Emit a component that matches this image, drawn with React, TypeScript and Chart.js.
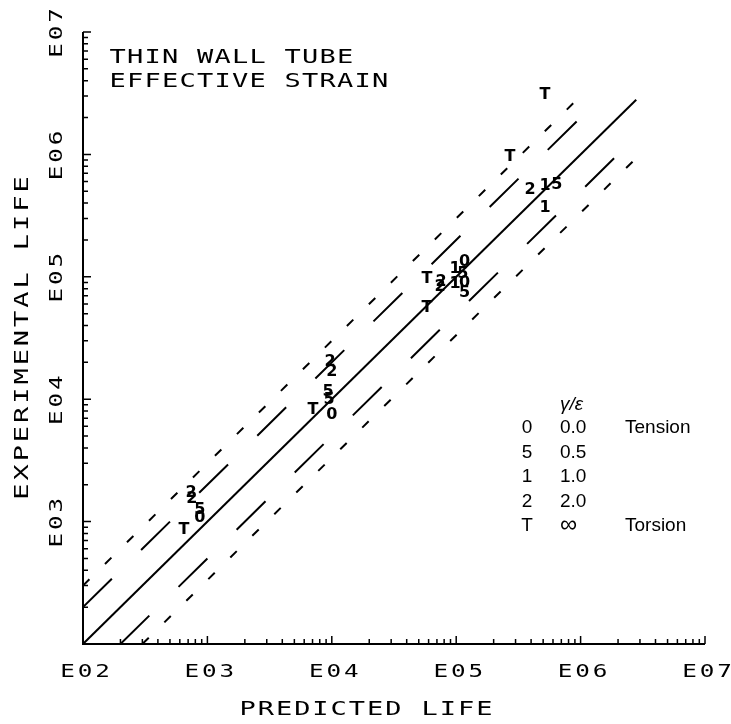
import { useEffect, useRef } from "react";
import { Chart, registerables } from "chart.js";

Chart.register(...registerables);

// ---- axis ticks ----
const decadeValues = [1e2, 1e3, 1e4, 1e5, 1e6, 1e7];
const decadeLabels = ["E02", "E03", "E04", "E05", "E06", "E07"];
const minorMultipliers = [2, 3, 4, 5, 6, 7, 8, 9];

// ---- data points (predicted life, experimental life), grouped by plotted symbol ----
const sym0X = [871, 10000, 117000, 117000];
const sym0Y = [1070, 7400, 132000, 89000];
const sym5X = [871, 9340, 9500, 113000, 117000, 645000];
const sym5Y = [1245, 11500, 9800, 105000, 74000, 562000];
const sym1X = [98000, 98000, 518000, 518000];
const sym1Y = [117000, 87000, 550000, 363000];
const sym2X = [738, 751, 9680, 10000, 75500, 74300, 392000];
const sym2Y = [1715, 1530, 20100, 16700, 90600, 82600, 515000];
const symTX = [648, 7060, 58200, 58200, 270000, 518000];
const symTY = [855, 8130, 95900, 55600, 955000, 3050000];

// ---- reference lines (y = x, factor-of-2 and factor-of-3 bands) ----
const solidX = [1e2, 2.8e6];
const solidY = [1e2, 2.8e6];
const upper2X = [1e2, 1e6];
const upper2Y = [2e2, 2e6];
const upper3X = [1e2, 1e6];
const upper3Y = [3e2, 3e6];
const lower2X = [2e2, 2e6];
const lower2Y = [1e2, 1e6];
const lower3X = [3e2, 3e6];
const lower3Y = [1e2, 1e6];

// ---- legend ----
const legendSymbols = ["0", "5", "1", "2", "T"];
const legendRatios = ["0.0", "0.5", "1.0", "2.0", "\u221E"];
const legendNotes = ["Tension", "", "", "", "Torsion"];

const titleLines = ["THIN WALL TUBE", "EFFECTIVE STRAIN"];
const xTitle = "PREDICTED LIFE";
const yTitle = "EXPERIMENTAL LIFE";

const PLOT_FONT = "'DejaVu Sans Mono', monospace";

function drawSpaced(
  ctx: CanvasRenderingContext2D,
  text: string,
  x: number,
  y: number,
  size: number,
  adv: number,
  hs: number,
  align: "left" | "center",
  rot = 0
) {
  ctx.save();
  ctx.translate(x, y);
  if (rot) ctx.rotate(rot);
  ctx.font = `${size}px ${PLOT_FONT}`;
  ctx.textAlign = "center";
  ctx.textBaseline = "alphabetic";
  const total = text.length * adv;
  const x0 = align === "center" ? -total / 2 : 0;
  for (let i = 0; i < text.length; i++) {
    const ch = text[i];
    if (ch === " ") continue;
    ctx.save();
    ctx.translate(x0 + (i + 0.5) * adv, 0);
    ctx.scale(hs, 1);
    ctx.fillText(ch, 0, 0);
    ctx.restore();
  }
  ctx.restore();
}

const pts = (xs: number[], ys: number[]) => xs.map((x, i) => ({ x, y: ys[i] }));

export default function App() {
  const ref = useRef<HTMLCanvasElement | null>(null);

  useEffect(() => {
    if (!ref.current) return;

    const lineDs = (xs: number[], ys: number[], dash: number[], offset = 0) => ({
      type: "line" as const,
      data: pts(xs, ys),
      borderColor: "#000",
      borderWidth: 2,
      borderDash: dash,
      borderDashOffset: offset,
      pointRadius: 0,
      fill: false,
      showLine: true,
      tension: 0,
      borderCapStyle: "butt" as const,
    });

    const symDs = (label: string, xs: number[], ys: number[]) => ({
      type: "scatter" as const,
      label,
      data: pts(xs, ys),
      pointRadius: 0,
      pointHoverRadius: 0,
      showLine: false,
    });

    const overlay = {
      id: "overlay",
      beforeDraw(chart: any) {
        const c = chart.ctx as CanvasRenderingContext2D;
        c.save();
        c.fillStyle = "#fff";
        c.fillRect(0, 0, chart.width, chart.height);
        c.restore();
      },
      afterDraw(chart: any) {
        const c = chart.ctx as CanvasRenderingContext2D;
        const xs = chart.scales.x;
        const ys = chart.scales.y;
        const area = chart.chartArea;
        c.save();
        c.strokeStyle = "#000";
        c.fillStyle = "#000";

        // axes
        c.lineWidth = 2;
        c.beginPath();
        c.moveTo(area.left, area.top);
        c.lineTo(area.left, area.bottom);
        c.lineTo(area.right, area.bottom);
        c.stroke();

        // ticks
        c.lineWidth = 1.5;
        c.beginPath();
        for (let d = 0; d < decadeValues.length; d++) {
          const v = decadeValues[d];
          const px = xs.getPixelForValue(v);
          const py = ys.getPixelForValue(v);
          c.moveTo(px, area.bottom);
          c.lineTo(px, area.bottom - 8);
          c.moveTo(area.left, py);
          c.lineTo(area.left + 8, py);
          if (d < decadeValues.length - 1) {
            for (const m of minorMultipliers) {
              const mv = v * m;
              const mx = xs.getPixelForValue(mv);
              const my = ys.getPixelForValue(mv);
              c.moveTo(mx, area.bottom);
              c.lineTo(mx, area.bottom - 5);
              c.moveTo(area.left, my);
              c.lineTo(area.left + 5, my);
            }
          }
        }
        c.stroke();

        // tick labels (y axis has no E02 label)
        for (let d = 0; d < decadeValues.length; d++) {
          const v = decadeValues[d];
          drawSpaced(c, decadeLabels[d], xs.getPixelForValue(v) + 2, 677, 18, 17.5, 1.35, "center");
          if (d > 0) {
            drawSpaced(c, decadeLabels[d], 62, ys.getPixelForValue(v) + 1, 18, 17.5, 1.35, "center", -Math.PI / 2);
          }
        }

        // axis titles
        drawSpaced(c, xTitle, 366, 715, 20, 18.2, 1.35, "center");
        drawSpaced(c, yTitle, 28, 338, 20, 19.2, 1.35, "center", -Math.PI / 2);

        // title
        drawSpaced(c, titleLines[0], 109, 63, 20, 17.5, 1.35, "left");
        drawSpaced(c, titleLines[1], 109, 87, 20, 17.5, 1.35, "left");

        // data symbols
        c.font = "bold 16px 'DejaVu Sans', sans-serif";
        c.textAlign = "center";
        c.textBaseline = "middle";
        chart.data.datasets.forEach((ds: any, i: number) => {
          if (ds.type !== "scatter") return;
          const meta = chart.getDatasetMeta(i);
          meta.data.forEach((el: any) => {
            c.fillText(ds.label, el.x, el.y);
          });
        });

        // legend
        c.textBaseline = "alphabetic";
        c.font = "italic 19px 'Liberation Sans', Arial, sans-serif";
        c.textAlign = "left";
        c.fillText("\u03B3/\u03B5", 560, 410);
        c.font = "19px 'Liberation Sans', Arial, sans-serif";
        for (let r = 0; r < legendSymbols.length; r++) {
          const by = 433 + r * 24.6;
          c.textAlign = "center";
          c.fillText(legendSymbols[r], 527, by);
          c.textAlign = "left";
          if (legendRatios[r] === "\u221E") {
            c.save();
            c.font = "24px 'Liberation Sans', Arial, sans-serif";
            c.fillText(legendRatios[r], 560, by + 1);
            c.restore();
          } else {
            c.fillText(legendRatios[r], 560, by);
          }
          if (legendNotes[r]) c.fillText(legendNotes[r], 625, by);
        }
        c.restore();
      },
    };

    const chart = new Chart(ref.current, {
      type: "scatter",
      data: {
        datasets: [
          lineDs(solidX, solidY, []),
          lineDs(upper2X, upper2Y, [40.5, 41]),
          lineDs(lower2X, lower2Y, [40.5, 41]),
          lineDs(upper3X, upper3Y, [9, 21.85]),
          lineDs(lower3X, lower3Y, [9, 21.85]),
          symDs("0", sym0X, sym0Y),
          symDs("5", sym5X, sym5Y),
          symDs("1", sym1X, sym1Y),
          symDs("2", sym2X, sym2Y),
          symDs("T", symTX, symTY),
        ] as any,
      },
      options: {
        animation: false,
        responsive: false,
        devicePixelRatio: 1,
        layout: { padding: { left: 83, top: 32, right: 26, bottom: 80 } },
        scales: {
          x: { type: "logarithmic", min: 100, max: 1e7, display: false },
          y: { type: "logarithmic", min: 100, max: 1e7, display: false },
        },
        plugins: {
          legend: { display: false },
          tooltip: { enabled: false },
        },
        events: [],
      },
      plugins: [overlay],
    });

    return () => chart.destroy();
  }, []);

  return (
    <div style={{ position: "absolute", left: 0, top: 0, width: 731, height: 724 }}>
      <canvas ref={ref} width={731} height={724} style={{ width: 731, height: 724, display: "block" }} />
    </div>
  );
}
